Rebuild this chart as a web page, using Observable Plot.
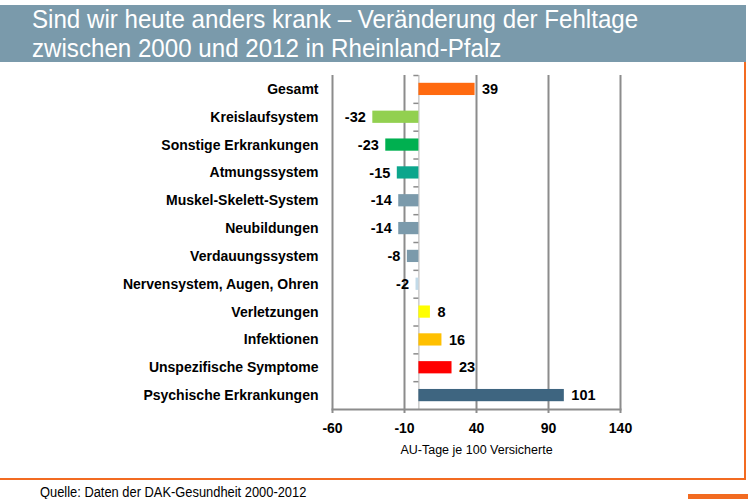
<!DOCTYPE html>
<html><head><meta charset="utf-8">
<script src="https://cdn.jsdelivr.net/npm/d3@7"></script>
<script src="https://cdn.jsdelivr.net/npm/@observablehq/plot@0.6"></script>
<style>
body{margin:0;background:#fff;}
#wrap{position:relative;width:753px;height:499px;overflow:hidden;font-family:"Liberation Sans",Arial,sans-serif;}
#title{position:absolute;left:0;top:5px;width:746px;height:57px;background:#7a9aab;color:#fff;
 font-family:"Liberation Sans",Arial,sans-serif;font-size:25px;line-height:29px;}
#title div{position:absolute;left:32px;white-space:nowrap;transform:scaleX(0.965);transform-origin:0 0;}
#rline{position:absolute;left:744px;top:62px;width:2px;height:418px;background:#f26b21;}
#bline{position:absolute;left:0;top:478px;width:746px;height:2px;background:#f26b21;}
#brect{position:absolute;left:688px;top:494px;width:60px;height:5px;background:#f26b21;}
#cap{position:absolute;left:40px;top:484px;font-family:"Liberation Sans",Arial,sans-serif;font-size:14px;color:#000;white-space:nowrap;transform:scaleX(0.92);transform-origin:0 0;}
#chart{position:absolute;left:0;top:62px;}
</style></head>
<body><div id="wrap">
<div id="title"><div style="top:0px">Sind wir heute anders krank – Veränderung der Fehltage</div><div style="top:29px">zwischen 2000 und 2012 in Rheinland-Pfalz</div></div>
<div id="chart"></div>
<div id="rline"></div><div id="bline"></div><div id="brect"></div>
<div id="cap">Quelle: Daten der DAK-Gesundheit 2000-2012</div>
</div>
<script>
const categories = ["Gesamt","Kreislaufsystem","Sonstige Erkrankungen","Atmungssystem","Muskel-Skelett-System","Neubildungen","Verdauungssystem","Nervensystem, Augen, Ohren","Verletzungen","Infektionen","Unspezifische Symptome","Psychische Erkrankungen"];
const values = [39,-32,-23,-15,-14,-14,-8,-2,8,16,23,101];
const colors = ["#ff6a10","#92d050","#00b050","#0ca68c","#7b9aab","#7b9aab","#7b9aab","#c2dae8","#ffff00","#ffc000","#ff0000","#3e6580"];
const xTicks = [-60,-10,40,90,140];
const xLabel = "AU-Tage je 100 Versicherte";

const data = categories.map((c,i)=>({cat:c, v:values[i], col:colors[i]}));
const neg = data.filter(d=>d.v<0), pos = data.filter(d=>d.v>=0);
const gray = "#8c8c8c";
const plot = Plot.plot({
  width: 745, height: 400,
  marginLeft: 332, marginRight: 125, marginTop: 13, marginBottom: 53,
  x: {domain:[-60,140], ticks: xTicks},
  y: {domain: categories, padding: 0, round: false, axis: null},
  style: {fontFamily:'"Liberation Sans",Arial,sans-serif', color:"#000", background:"#fff"},
  marks: [
    Plot.ruleX(xTicks, {stroke: gray, strokeWidth: 2}),
    Plot.ruleX([0], {stroke: "#b0b0b0", strokeWidth: 1}),
    Plot.ruleY(categories, {y: d=>d, x1: -3.5, x2: 0, dy: -13.9, stroke: gray, strokeWidth: 1.5}),
    Plot.barX(data, {y: "cat", x1: 0, x2: "v", fill: "col", insetTop: 7.8, insetBottom: 7.8}),
    Plot.text(neg, {y: "cat", x: "v", text: d=>String(d.v), textAnchor: "end", dx: -7,
      fontWeight: "bold", fontSize: 14.5, letterSpacing: -0.6}),
    Plot.text(pos, {y: "cat", x: "v", text: d=>String(d.v), textAnchor: "start", dx: 7,
      fontWeight: "bold", fontSize: 14.5, letterSpacing: -0.6}),
    Plot.text(data, {y: "cat", x: -60, text: "cat", textAnchor: "end", dx: -14,
      fontWeight: "bold", fontSize: 14, letterSpacing: -0.45}),
    Plot.frame({anchor: "bottom", stroke: gray, strokeWidth: 2}),
    Plot.axisX({ticks: xTicks, tickSize: 4, tickPadding: 10, stroke: gray, strokeWidth: 2, fontSize: 14, fontWeight: "bold",
      letterSpacing: -0.5, label: null, tickFormat: d=>String(d)}),
    Plot.axisX({ticks: [], tickSize: 0, label: xLabel, labelAnchor: "center", labelArrow: "none",
      labelOffset: 44, fontSize: 12.5, fontWeight: "normal"})
  ]
});
document.getElementById("chart").appendChild(plot);
</script>
</body></html>
